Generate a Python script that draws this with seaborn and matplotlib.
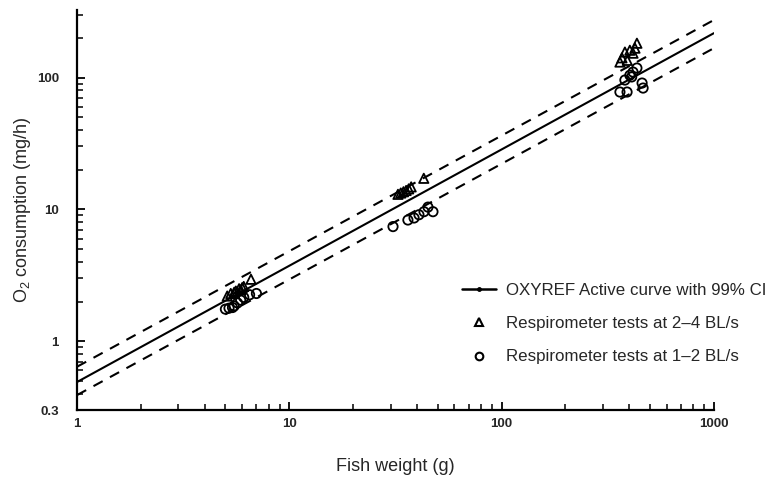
import numpy as np
import pandas as pd
import matplotlib
matplotlib.use("Agg")
import matplotlib.pyplot as plt
from matplotlib.lines import Line2D
from matplotlib.ticker import FixedLocator, FixedFormatter, LogLocator, NullFormatter
import seaborn as sns

# OXYREF active curve and its 99% confidence band (end points, log-log straight lines)
curve_w = [1, 1000]
curve_o2 = [0.49, 217]
ci_upper = [0.64, 273]
ci_lower = [0.39, 167]

# Respirometer tests at 2-4 BL/s
fast_w = [5.1, 5.3, 5.5, 5.6, 5.8, 5.9, 6.0, 6.1, 6.6,
          32.5, 33.5, 34.5, 35.5, 36.5, 37.5, 43.0,
          361, 369, 381, 391, 402, 416, 425, 434]
fast_o2 = [2.2, 2.3, 2.35, 2.4, 2.5, 2.45, 2.55, 2.6, 2.95,
           13.0, 13.3, 13.6, 13.9, 14.3, 14.8, 17.2,
           131, 141, 156, 135, 161, 153, 167, 182]

# Respirometer tests at 1-2 BL/s
slow_w = [5.0, 5.2, 5.4, 5.5, 5.7, 5.9, 6.1, 6.5, 7.0,
          30.8, 36.2, 38.7, 40.8, 43.1, 45.0, 47.5,
          361, 381, 390, 402, 410, 416, 434, 459, 464]
slow_o2 = [1.75, 1.78, 1.8, 1.85, 1.95, 2.05, 2.15, 2.25, 2.3,
           7.4, 8.3, 8.6, 9.1, 9.6, 10.4, 9.6,
           77.6, 95.7, 77.6, 104, 101, 110, 118, 90.8, 83.2]

x_ticks = [1, 10, 100, 1000]
x_tick_labels = ["1", "10", "100", "1000"]
y_ticks = [0.3, 1, 10, 100]
y_tick_labels = ["0.3", "1", "10", "100"]

legend_labels = ["OXYREF Active curve with 99% CI",
                 "Respirometer tests at 2\u20134 BL/s",
                 "Respirometer tests at 1\u20132 BL/s"]

sns.set_style("ticks")
plt.rcParams["font.family"] = ["Liberation Sans", "DejaVu Sans"]
plt.rcParams["mathtext.default"] = "regular"

fig = plt.figure(figsize=(7.71, 4.78), dpi=100)
ax = fig.add_axes([0.0999, 0.142, 0.826, 0.837])

lines = pd.DataFrame({"w": curve_w, "mid": curve_o2, "hi": ci_upper, "lo": ci_lower})
sns.lineplot(data=lines, x="w", y="mid", ax=ax, color="black", lw=1.5)
sns.lineplot(data=lines, x="w", y="hi", ax=ax, color="black", lw=1.5, dashes=False,
             linestyle=(0, (5, 4)))
sns.lineplot(data=lines, x="w", y="lo", ax=ax, color="black", lw=1.5, dashes=False,
             linestyle=(0, (5, 4)))

sns.scatterplot(x=fast_w, y=fast_o2, ax=ax, marker="^", s=45,
                facecolor="none", edgecolor="black", linewidth=1.3, legend=False)
sns.scatterplot(x=slow_w, y=slow_o2, ax=ax, marker="o", s=45,
                facecolor="none", edgecolor="black", linewidth=1.3, legend=False)

ax.set_xscale("log")
ax.set_yscale("log")
ax.set_xlim(1, 1000)
ax.set_ylim(0.3, 325)

ax.xaxis.set_major_locator(FixedLocator(x_ticks))
ax.xaxis.set_major_formatter(FixedFormatter(x_tick_labels))
ax.xaxis.set_minor_locator(LogLocator(base=10, subs=np.arange(2, 10)))
ax.xaxis.set_minor_formatter(NullFormatter())
ax.yaxis.set_major_locator(FixedLocator(y_ticks))
ax.yaxis.set_major_formatter(FixedFormatter(y_tick_labels))
ax.yaxis.set_minor_locator(LogLocator(base=10, subs=np.arange(2, 10)))
ax.yaxis.set_minor_formatter(NullFormatter())

ax.tick_params(which="major", direction="in", length=6, width=1.3, color="black",
               labelsize=9.5)
ax.tick_params(axis="x", which="major", pad=6)
ax.tick_params(axis="y", which="major", pad=13)
ax.tick_params(which="minor", direction="in", length=4, width=1.1, color="black")
for lab in ax.get_xticklabels() + ax.get_yticklabels():
    lab.set_fontweight("bold")

sns.despine(ax=ax)
for side in ("left", "bottom"):
    ax.spines[side].set_linewidth(1.6)
    ax.spines[side].set_color("black")

ax.set_xlabel("Fish weight (g)", fontsize=13, labelpad=20)
ax.set_ylabel("O$_2$ consumption (mg/h)", fontsize=13, labelpad=2.5)

handles = [
    Line2D([], [], color="black", lw=1.8, marker="o", markersize=2.5),
    Line2D([], [], color="black", lw=0, marker="^", markersize=5.5,
           markerfacecolor="none", markeredgewidth=1.5),
    Line2D([], [], color="black", lw=0, marker="o", markersize=5.5,
           markerfacecolor="none", markeredgewidth=1.5),
]
fig.legend(handles, legend_labels, loc="upper left",
           bbox_to_anchor=(0.599, 0.4075), frameon=False, fontsize=12.2,
           handlelength=2.0, handletextpad=0.6, labelspacing=1.07,
           borderpad=0, borderaxespad=0)

fig.savefig("out.png", dpi=100)
